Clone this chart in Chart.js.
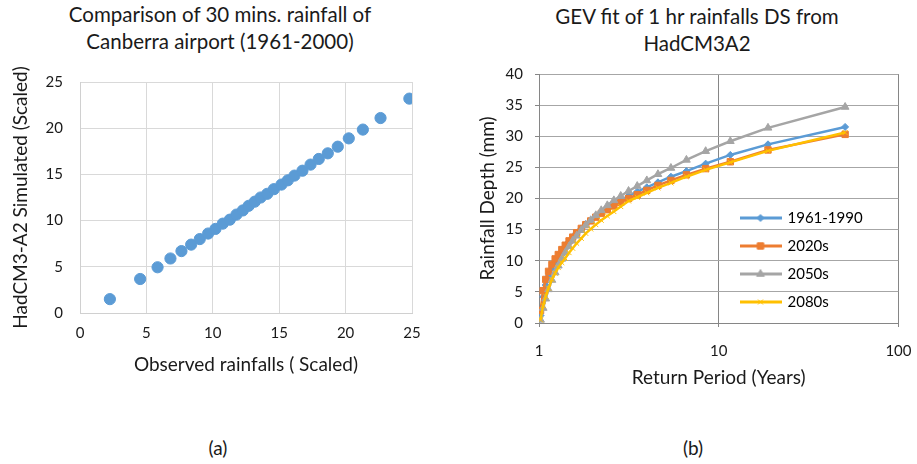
<!DOCTYPE html>
<html>
<head>
<meta charset="utf-8">
<script src="https://cdn.jsdelivr.net/npm/chart.js@4.4.0/dist/chart.umd.min.js"></script>
<style>
  body { margin: 0; background: #fff; width: 917px; height: 464px; position: relative; overflow: hidden; font-family: Lato, sans-serif; color: #1a1a1a; }
  .title { position: absolute; text-align: center; font-size: 20.5px; line-height: 27px; white-space: nowrap; }
  .caption { position: absolute; width: 40px; text-align: center; font-size: 19px; line-height: 24px; }
  .box { position: absolute; }
</style>
</head>
<body>
<div class="title" style="left:0; top:1px; width:440px;">Comparison of 30 mins. rainfall of<br>Canberra airport (1961-2000)</div>
<div class="title" style="left:469px; top:3px; width:456px;">GEV fit of 1 hr rainfalls DS from<br>HadCM3A2</div>
<div class="box" style="left:0; top:56px; width:440px; height:331px;"><canvas id="scatterChart"></canvas></div>
<div class="box" style="left:460px; top:53px; width:467px; height:343px;"><canvas id="gevChart"></canvas></div>
<div class="caption" style="left:198px; top:436px;">(a)</div>
<div class="caption" style="left:673px; top:436px;">(b)</div>

<script>
// (a) observed vs simulated, scaled
const observed = [2.25, 4.53, 5.84, 6.81, 7.64, 8.37, 9.02, 9.65, 10.2, 10.75,
    11.28, 11.78, 12.26, 12.7, 13.16, 13.6, 14.1, 14.6, 15.17, 15.65,
    16.15, 16.75, 17.36, 17.98, 18.66, 19.41, 20.24, 21.3, 22.63, 24.8];
const simulated = [1.5, 3.68, 4.95, 5.9, 6.7, 7.4, 8.0, 8.6, 9.1, 9.67,
    10.1, 10.65, 11.1, 11.6, 12.05, 12.5, 12.9, 13.4, 13.9, 14.36,
    14.87, 15.4, 16.06, 16.67, 17.28, 18.0, 18.9, 19.85, 21.1, 23.2];
const scatterTicks = [0, 5, 10, 15, 20, 25];

// (b) GEV fit, return period (years) vs rainfall depth (mm)
const returnPeriods = [1.02, 1.055, 1.09, 1.13, 1.18, 1.23, 1.28, 1.34, 1.40, 1.47,
    1.54, 1.62, 1.72, 1.82, 1.94, 2.07, 2.22, 2.40, 2.61, 2.85,
    3.15, 3.52, 3.98, 4.59, 5.42, 6.61, 8.46, 11.6, 18.8, 50.5];
const depth1961 = [1.2, 4.2, 6.1, 7.5, 8.8, 9.8, 10.6, 11.5, 12.3, 13.1,
    13.8, 14.5, 15.2, 15.9, 16.5, 17.1, 17.8, 18.4, 19.1, 19.8,
    20.4, 21.1, 21.8, 22.6, 23.5, 24.4, 25.6, 27.0, 28.7, 31.5];
const depth2020 = [2.0, 5.2, 7.0, 8.3, 9.4, 10.3, 11.0, 11.8, 12.5, 13.2,
    13.8, 14.5, 15.2, 15.8, 16.4, 17.0, 17.6, 18.2, 18.8, 19.4,
    20.0, 20.6, 21.3, 22.1, 22.9, 23.8, 24.8, 25.9, 27.8, 30.3];
const depth2050 = [0.5, 2.4, 3.9, 5.4, 6.9, 8.1, 9.2, 10.3, 11.3, 12.3,
    13.2, 14.0, 14.9, 15.7, 16.5, 17.3, 18.1, 18.9, 19.7, 20.4,
    21.2, 22.0, 22.9, 23.9, 24.9, 26.2, 27.6, 29.2, 31.35, 34.7];
const depth2080 = [0.5, 2.8, 4.3, 5.6, 7.0, 8.0, 8.9, 9.7, 10.4, 11.3,
    12.0, 12.8, 13.6, 14.4, 15.1, 15.8, 16.5, 17.2, 17.9, 18.7,
    19.6, 20.2, 20.9, 21.7, 22.5, 23.5, 24.6, 25.8, 27.65, 30.6];
const seriesLabels = ['1961-1990', '2020s', '2050s', '2080s'];
const depthTicks = [0, 5, 10, 15, 20, 25, 30, 35, 40];
const periodTicks = [1, 10, 100];

Chart.defaults.font.family = 'Lato, sans-serif';
Chart.defaults.color = '#1a1a1a';
Chart.defaults.animation = false;

const toPoints = (xs, ys) => xs.map((x, i) => ({ x: x, y: ys[i] }));
const setTicks = (list) => (scale) => { scale.ticks = list.map(v => ({ value: v })); };

// scatter chart
new Chart(document.getElementById('scatterChart'), {
    type: 'scatter',
    data: {
        datasets: [{
            data: toPoints(observed, simulated),
            backgroundColor: '#5B9BD5',
            borderColor: '#5B9BD5',
            pointRadius: 5.6,
            pointHoverRadius: 5.6
        }]
    },
    options: {
        responsive: true,
        maintainAspectRatio: false,
        layout: { padding: { top: 0, right: 28, bottom: 10, left: 0 } },
        plugins: { legend: { display: false }, tooltip: { enabled: false } },
        scales: {
            x: {
                type: 'linear',
                min: scatterTicks[0],
                max: scatterTicks[scatterTicks.length - 1],
                afterBuildTicks: setTicks(scatterTicks),
                afterFit: (s) => { s.height = 64; },
                ticks: { padding: 11, font: { size: 15 } },
                grid: { color: '#d9d9d9', drawTicks: false },
                border: { color: '#d0d0d0' },
                title: { display: true, text: 'Observed rainfalls ( Scaled)', font: { size: 19 }, padding: { top: 0, bottom: 0.5 } }
            },
            y: {
                type: 'linear',
                min: scatterTicks[0],
                max: scatterTicks[scatterTicks.length - 1],
                afterBuildTicks: setTicks(scatterTicks),
                afterFit: (s) => { s.width = 80; },
                ticks: { padding: 17, font: { size: 15 } },
                grid: { color: '#d9d9d9', drawTicks: false },
                border: { color: '#d0d0d0' },
                title: { display: true, text: 'HadCM3-A2 Simulated (Scaled)', font: { size: 19 }, padding: { top: 9.5, bottom: 0 } }
            }
        }
    }
});

// legend icons: line with the series marker in the middle
function makeIcon(color, style, radius) {
    const c = document.createElement('canvas');
    c.width = 42;
    c.height = 14;
    const ctx = c.getContext('2d');
    ctx.strokeStyle = color;
    ctx.fillStyle = color;
    ctx.lineWidth = 3;
    ctx.beginPath();
    ctx.moveTo(0, 7);
    ctx.lineTo(42, 7);
    ctx.stroke();
    ctx.lineWidth = 1;
    Chart.helpers.drawPoint(ctx, { pointStyle: style, radius: radius, borderWidth: 1, rotation: 0 }, 21, 7);
    return c;
}

const colors = ['#5B9BD5', '#ED7D31', '#A5A5A5', '#FFC000'];
const markers = ['rectRot', 'rect', 'triangle', 'crossRot'];
const markerSizes = [3.5, 4.5, 4.5, 3.5];
const depthSeries = [depth1961, depth2020, depth2050, depth2080];
const legendIcons = colors.map((c, i) => makeIcon(c, markers[i], markerSizes[i]));

// put the legend inside the plot, right side
const legendMover = {
    id: 'legendMover',
    afterLayout(chart) {
        const lg = chart.legend;
        if (!lg) return;
        const w = lg.width, h = lg.height;
        lg.left = 268;
        lg.top = 144.5;
        lg.right = lg.left + w;
        lg.bottom = lg.top + h;
    }
};

new Chart(document.getElementById('gevChart'), {
    type: 'line',
    data: {
        datasets: depthSeries.map((d, i) => ({
            label: seriesLabels[i],
            data: toPoints(returnPeriods, d),
            borderColor: colors[i],
            backgroundColor: colors[i],
            pointBackgroundColor: colors[i],
            pointBorderColor: colors[i],
            pointStyle: markers[i],
            pointRadius: markerSizes[i],
            pointHoverRadius: markerSizes[i],
            pointBorderWidth: 1,
            borderWidth: 2.5,
            tension: 0,
            order: 4 - i
        }))
    },
    options: {
        responsive: true,
        maintainAspectRatio: false,
        layout: { padding: { top: 0, right: 0, bottom: 7, left: 0 } },
        plugins: {
            tooltip: { enabled: false },
            legend: {
                position: 'chartArea',
                align: 'start',
                labels: {
                    usePointStyle: true,
                    pointStyleWidth: 39,
                    padding: 13,
                    font: { size: 15 },
                    color: '#1a1a1a',
                    generateLabels: (chart) => chart.data.datasets.map((ds, i) => ({
                        text: ds.label,
                        pointStyle: legendIcons[i],
                        fillStyle: colors[i],
                        strokeStyle: colors[i],
                        lineWidth: 0,
                        hidden: false,
                        datasetIndex: i
                    }))
                }
            }
        },
        scales: {
            x: {
                type: 'logarithmic',
                min: periodTicks[0],
                max: periodTicks[periodTicks.length - 1],
                afterBuildTicks: setTicks(periodTicks),
                afterFit: (s) => { s.height = 66; },
                ticks: { padding: 15.5, font: { size: 15 }, callback: (v) => String(v) },
                grid: { color: '#868686', tickLength: 4, tickColor: '#868686' },
                border: { color: '#868686' },
                title: { display: true, text: 'Return Period (Years)', font: { size: 19 }, padding: { top: 0, bottom: 0 } }
            },
            y: {
                type: 'linear',
                min: depthTicks[0],
                max: depthTicks[depthTicks.length - 1],
                afterBuildTicks: setTicks(depthTicks),
                afterFit: (s) => { s.width = 79; },
                ticks: { padding: 12, font: { size: 15 } },
                grid: { color: '#a6a6a6', tickLength: 4, tickColor: '#868686' },
                border: { color: '#868686' },
                title: { display: true, text: 'Rainfall Depth (mm)', font: { size: 19 }, padding: { top: 16.5, bottom: 0 } }
            }
        }
    },
    plugins: [legendMover]
});
</script>
</body>
</html>
